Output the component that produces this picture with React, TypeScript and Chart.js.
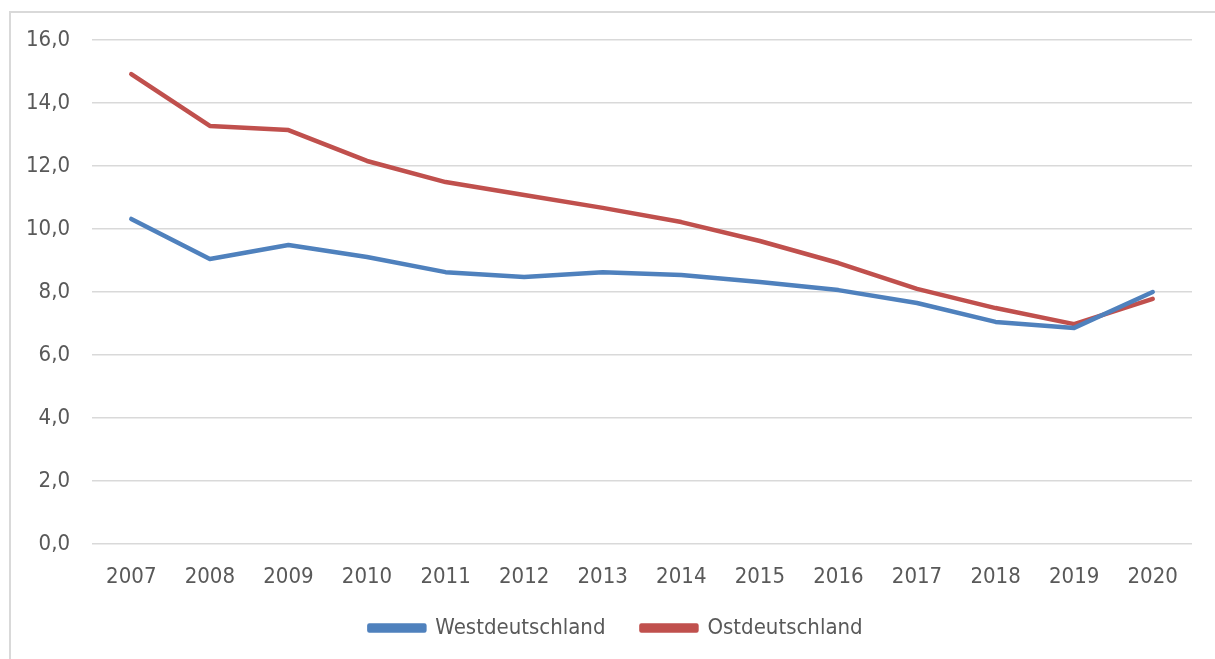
import React, { useEffect, useRef } from "react";
import { Chart, registerables } from "chart.js";

Chart.register(...registerables);

const years = ["2007", "2008", "2009", "2010", "2011", "2012", "2013", "2014", "2015", "2016", "2017", "2018", "2019", "2020"];
const west = [10.32, 9.05, 9.49, 9.11, 8.63, 8.48, 8.63, 8.54, 8.32, 8.06, 7.65, 7.05, 6.86, 8.0];
const east = [14.92, 13.27, 13.14, 12.16, 11.49, 11.08, 10.67, 10.22, 9.62, 8.92, 8.1, 7.49, 6.98, 7.78];
const yMin = 0;
const yMax = 16;
const yStep = 2;

const FONT = "'DejaVu Sans Condensed', 'Liberation Sans', sans-serif";
const TEXT = "#595959";

export default function App() {
  const ref = useRef<HTMLCanvasElement | null>(null);
  useEffect(() => {
    if (!ref.current) return;
    const chart = new Chart(ref.current, {
      type: "line",
      data: {
        labels: years,
        datasets: [
          {
            label: "Westdeutschland",
            data: west,
            borderColor: "#4F81BD",
            backgroundColor: "#4F81BD",
            borderWidth: 4.5,
            pointRadius: 0,
            tension: 0,
            borderCapStyle: "round",
            borderJoinStyle: "round",
          },
          {
            label: "Ostdeutschland",
            data: east,
            borderColor: "#C0504D",
            backgroundColor: "#C0504D",
            borderWidth: 4.5,
            pointRadius: 0,
            tension: 0,
            borderCapStyle: "round",
            borderJoinStyle: "round",
          },
        ],
      },
      options: {
        responsive: false,
        animation: false,
        layout: { padding: { left: 40, right: 23, top: 40, bottom: 10 } },
        plugins: {
          tooltip: { enabled: false },
          legend: {
            position: "bottom",
            labels: {
              boxWidth: 55,
              boxHeight: 5,
              padding: 36,
              color: TEXT,
              font: { family: FONT, size: 22 },
            },
          },
        },
        scales: {
          x: {
            offset: true,
            grid: { display: false, drawTicks: false },
            border: { display: false },
            ticks: {
              color: TEXT,
              padding: 20,
              maxRotation: 0,
              autoSkip: false,
              font: { family: FONT, size: 22 },
            },
            afterFit: (s: any) => {
              s.height = 37;
              s._computeLabelArea = () => undefined;
            },
          },
          y: {
            min: yMin,
            max: yMax,
            grid: { color: "#d9d9d9", lineWidth: 1.5, drawTicks: false },
            border: { display: false },
            ticks: {
              stepSize: yStep,
              color: TEXT,
              padding: 22,
              font: { family: FONT, size: 22 },
              callback: (v: any) => Number(v).toFixed(1).replace(".", ","),
            },
            afterFit: (s: any) => {
              s.width = 52;
              s._computeLabelArea = () => undefined;
            },
          },
        },
      },
    });
    return () => chart.destroy();
  }, []);
  return (
    <div style={{ position: "fixed", left: 0, top: 0, width: 1215, height: 659, overflow: "hidden", background: "#fff" }}>
      <div
        style={{
          position: "absolute",
          left: 9,
          top: 11,
          width: 1300,
          height: 800,
          borderLeft: "2px solid #d9d9d9",
          borderTop: "2px solid #d9d9d9",
        }}
      />
      <canvas ref={ref} width={1215} height={659} style={{ position: "absolute", left: 0, top: 0, width: 1215, height: 659 }} />
    </div>
  );
}
